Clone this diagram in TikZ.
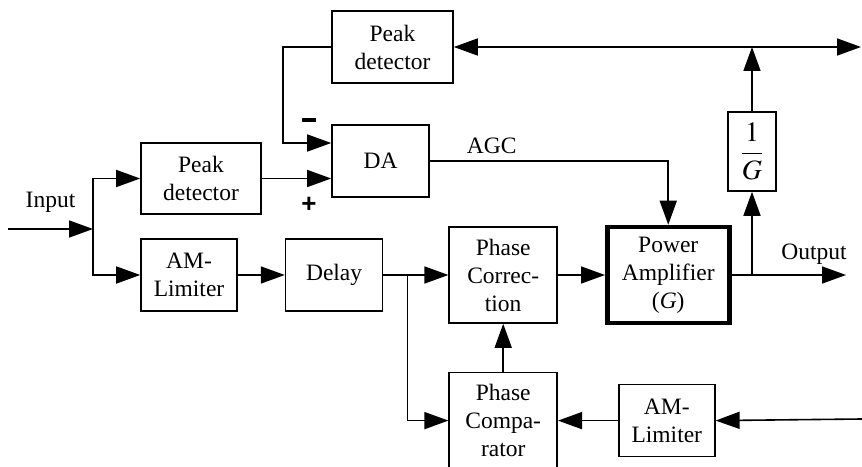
\documentclass[tikz,border=0pt]{standalone}
\usepackage{mathptmx}
\usepackage{fontspec}
\setmainfont{Liberation Serif}
\newfontfamily\signfont{Liberation Sans}
\usepackage{tikz}
\usetikzlibrary{arrows.meta,positioning,calc}
\tikzset{
  sigbox/.style={draw=black, line width=1.6pt, align=center,
    inner sep=0pt, minimum width=96pt, minimum height=72pt, fill=white},
  sigarrow/.style={-{Triangle[length=24pt,width=17pt]}, line width=1.6pt},
  sigline/.style={line width=1.6pt},
  signnote/.style={font=\signfont\bfseries\fontsize{26}{30}\selectfont}
}
\begin{document}
\begin{tikzpicture}[x=1pt, y=1pt, font=\fontsize{23.5}{28}\selectfont]
  \useasboundingbox (0,0) rectangle (862,466);
  % forward path
  \node[sigbox] (amlim1) at (189,191) {AM-\\Limiter};
  \node[sigbox, right=47pt of amlim1, minimum width=97pt] (delay) {Delay};
  \node[sigbox, right=65pt of delay, minimum width=108pt, minimum height=96pt] (phcor) {Phase\\Correc-\\tion};
  \node[sigbox, right=47pt of phcor, minimum width=122pt, minimum height=96pt, line width=4.5pt] (pa) {Power\\Amplifier\\(\textit{G})};
  \node[sigbox, below=48pt of phcor, minimum width=108pt, minimum height=96pt] (phcomp) {Phase\\Compa-\\rator};
  \node[sigbox, right=60pt of phcomp] (amlim2) {AM-\\Limiter};
  % AGC loop
  \node[sigbox, minimum width=120pt, minimum height=71pt] (pdin) at (201,287.5) {Peak\\detector};
  \node[sigbox, minimum width=97pt] (da) at (380.5,305) {DA};
  \node[sigbox, minimum width=121pt] (pdtop) at (392.5,419) {Peak\\detector};
  \node[sigbox, minimum width=48pt, minimum height=79pt, font=\fontsize{28}{30}\selectfont] (inv) at (752,314.5) {$\displaystyle\frac{1}{G}$};

  \coordinate (inp) at (8,237);
  \coordinate (split) at (93,237);
  \coordinate (minus) at ($(da.west)+(0,18)$);
  \coordinate (br) at ($(delay.east)+(24,0)$);
  \coordinate (tap) at (752,191);
  \coordinate (out) at (846,191);
  \coordinate (fb) at (862,47);
  \coordinate (topout) at (861,419);

  \draw[sigarrow] (inp) -- node[above=12pt]{Input} (split);
  \draw[sigarrow] (split) |- (pdin.west);
  \draw[sigarrow] (split) |- (amlim1.west);
  \draw[sigarrow] (pdin.east) -- (pdin.east -| da.west);
  \draw[sigarrow] (pdtop.west) -- ++(-48,0) |- (minus);
  \draw[sigarrow] (da.east) -| node[pos=0.13, above=3pt]{AGC} (pa.north);
  \draw[sigarrow] (amlim1) -- (delay);
  \draw[sigline] (delay.east) -- (br);
  \draw[sigarrow] (br) -- (phcor.west);
  \draw[sigarrow] (br) |- (phcomp.west);
  \draw[sigarrow] (phcor) -- (pa);
  \draw[sigarrow] (phcomp) -- (phcor);
  \draw[sigarrow] (fb) -- (amlim2.east);
  \draw[sigarrow] (amlim2) -- (phcomp);
  \draw[sigarrow] (pa.east) -- node[pos=0.72, above=6pt]{Output} (out);
  \draw[sigarrow] (tap) -- (inv.south);
  \draw[sigarrow] (inv.north) -- (inv.north |- pdtop.east);
  \draw[{Triangle[length=24pt,width=17pt]}-{Triangle[length=24pt,width=17pt]}, line width=1.6pt] (pdtop.east) -- (topout);
  \node[signnote] (plus) at (309,261) {+};
  \node[signnote] (neg) at (309,346) {\rule{14pt}{3.2pt}};
\end{tikzpicture}
\end{document}
